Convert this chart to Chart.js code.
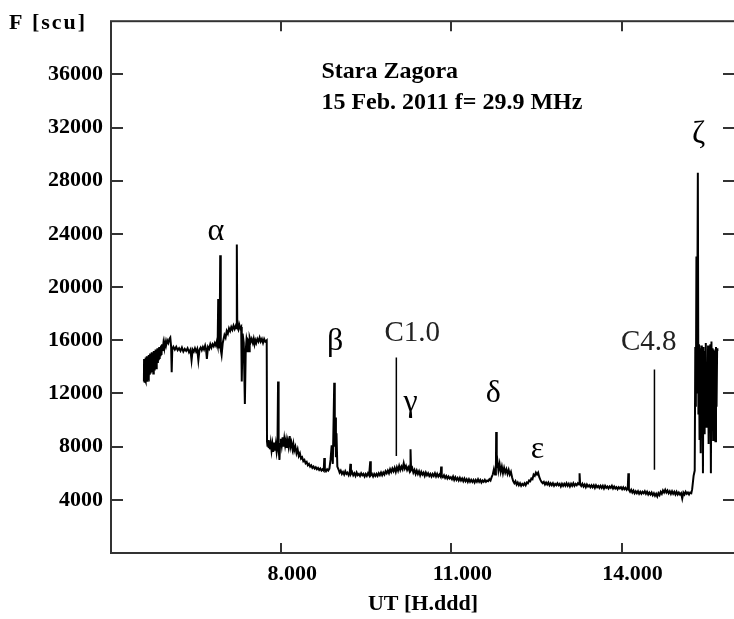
<!DOCTYPE html>
<html>
<head>
<meta charset="utf-8">
<script src="https://cdn.jsdelivr.net/npm/chart.js@4.4.1/dist/chart.umd.min.js"></script>
<style>
  html, body { margin: 0; padding: 0; background: #fff; overflow: hidden; }
  #wrap { width: 734px; height: 619px; overflow: hidden; }
</style>
</head>
<body>
<div id="wrap"><canvas id="chartBursts" width="742" height="619"></canvas></div>
<script>
// Données (UT en heures, flux en scu)
const utHours = [
  // début bruité
  5.580, 5.583, 5.590, 5.596, 5.602, 5.608, 5.614, 5.620, 5.627, 5.634,
  5.641, 5.648, 5.655, 5.662, 5.669, 5.676, 5.683, 5.690, 5.698, 5.706,
  5.714, 5.722, 5.730, 5.738, 5.746, 5.754, 5.762, 5.770, 5.778, 5.786,
  5.794, 5.802, 5.810, 5.818, 5.826, 5.834, 5.842, 5.850, 5.858, 5.866,
  5.874, 5.882, 5.890, 5.900, 5.910, 5.925, 5.940, 5.955, 5.970, 5.990,
  6.010, 6.030, 6.045, 6.060, 6.070, 6.080,
  // palier ~15000 et alpha
  6.100, 6.125, 6.150, 6.175, 6.200, 6.225, 6.250, 6.275, 6.300, 6.325,
  6.350, 6.375, 6.400, 6.420, 6.440, 6.460, 6.480, 6.500, 6.520, 6.540,
  6.560, 6.580, 6.600, 6.620, 6.640, 6.660, 6.675, 6.690, 6.710, 6.730,
  6.750, 6.770, 6.790, 6.810, 6.830, 6.850, 6.865, 6.880, 6.890, 6.900,
  6.915, 6.925, 6.935, 6.950, 6.970,
  // bosse 17000 puis palier 16000
  7.000, 7.020, 7.040, 7.060, 7.080, 7.100, 7.120, 7.140, 7.160, 7.180,
  7.200, 7.210, 7.218, 7.226, 7.245, 7.260, 7.280, 7.295, 7.305, 7.320,
  7.340, 7.360, 7.375, 7.390, 7.405, 7.410, 7.420, 7.435, 7.440, 7.450,
  7.465, 7.480, 7.500, 7.515, 7.530, 7.545, 7.560, 7.580, 7.600, 7.620,
  7.640, 7.660, 7.680, 7.700, 7.720, 7.745,
  // chute et beta
  7.750, 7.760, 7.770, 7.780, 7.790, 7.800, 7.815, 7.830, 7.845, 7.860,
  7.875, 7.890, 7.905, 7.920, 7.935, 7.945, 7.955, 7.970, 7.980, 7.995,
  8.010, 8.025, 8.040, 8.055, 8.070, 8.085, 8.100, 8.115, 8.130, 8.150,
  8.165, 8.180, 8.200, 8.215, 8.230, 8.250, 8.270, 8.290, 8.310, 8.330,
  8.350, 8.370, 8.390, 8.410, 8.430, 8.450, 8.470, 8.490, 8.510, 8.530,
  8.550, 8.570, 8.590, 8.610, 8.630, 8.650, 8.670, 8.690, 8.710, 8.730,
  8.750, 8.760, 8.770, 8.790, 8.810, 8.830, 8.850, 8.870, 8.890, 8.910,
  8.925, 8.935, 8.945, 8.955, 8.965, 8.975, 8.990,
  // fond après beta
  9.010, 9.030, 9.050, 9.070, 9.090, 9.110, 9.130, 9.150, 9.170, 9.190,
  9.210, 9.220, 9.230, 9.250, 9.270, 9.290, 9.310, 9.330, 9.350, 9.370,
  9.390, 9.410, 9.430, 9.450, 9.470, 9.490, 9.510, 9.530, 9.550, 9.570,
  9.580, 9.600, 9.620, 9.640, 9.660, 9.680, 9.700, 9.720, 9.740, 9.760,
  9.780, 9.800, 9.820, 9.840, 9.860, 9.880, 9.900, 9.920, 9.940, 9.960,
  9.980,
  // gamma
  10.000, 10.020, 10.040, 10.060, 10.080, 10.100, 10.120, 10.140, 10.160, 10.180,
  10.200, 10.220, 10.240, 10.260, 10.275, 10.280, 10.290, 10.310, 10.330, 10.350,
  10.370, 10.390, 10.410, 10.430, 10.450, 10.470, 10.490, 10.510, 10.530, 10.550,
  10.570, 10.590, 10.610, 10.630, 10.650, 10.670, 10.690, 10.710, 10.730, 10.750,
  10.770, 10.790, 10.810, 10.820, 10.830, 10.850, 10.870, 10.890, 10.910, 10.930,
  10.950, 10.970, 10.990, 11.010, 11.030, 11.050, 11.070, 11.090, 11.110, 11.130,
  11.150, 11.170, 11.190, 11.210, 11.230, 11.250, 11.270, 11.290, 11.310, 11.330,
  11.350, 11.370, 11.390, 11.410, 11.430, 11.450, 11.470, 11.490, 11.510, 11.530,
  11.550, 11.570, 11.590, 11.610, 11.630, 11.650, 11.670, 11.690, 11.710, 11.730,
  11.750,
  // delta et epsilon
  11.770, 11.785, 11.790, 11.800, 11.815, 11.830, 11.850, 11.870, 11.890, 11.910,
  11.930, 11.950, 11.970, 11.990, 12.010, 12.030, 12.050, 12.070, 12.090, 12.110,
  12.130, 12.150, 12.170, 12.190, 12.210, 12.230, 12.250, 12.270, 12.290, 12.310,
  12.330, 12.350, 12.370, 12.390, 12.410, 12.430, 12.450, 12.470, 12.490, 12.510,
  12.530, 12.550, 12.570, 12.590, 12.610, 12.630, 12.650, 12.670, 12.690, 12.710,
  12.730, 12.750, 12.770, 12.790, 12.810, 12.830, 12.850, 12.870, 12.890, 12.910,
  12.930, 12.950, 12.970, 12.990, 13.010, 13.030, 13.050, 13.070, 13.090, 13.110,
  13.130, 13.150, 13.170, 13.190, 13.210, 13.230, 13.250, 13.260, 13.270,
  // fond jusqu'à zeta
  13.290, 13.310, 13.330, 13.350, 13.370, 13.390, 13.410, 13.430, 13.450, 13.470,
  13.490, 13.510, 13.530, 13.550, 13.570, 13.590, 13.610, 13.630, 13.650, 13.670,
  13.690, 13.710, 13.730, 13.750, 13.770, 13.790, 13.810, 13.830, 13.850, 13.870,
  13.890, 13.910, 13.930, 13.950, 13.970, 13.990, 14.010, 14.030, 14.050, 14.070,
  14.090, 14.110, 14.120, 14.130, 14.150, 14.170, 14.190, 14.210, 14.230, 14.250,
  14.270, 14.290, 14.310, 14.330, 14.350, 14.370, 14.390, 14.410, 14.430, 14.450,
  14.470, 14.490, 14.510, 14.530, 14.550, 14.570, 14.590, 14.610, 14.630, 14.650,
  14.670, 14.690, 14.710, 14.730, 14.750, 14.770, 14.790, 14.810, 14.830, 14.850,
  14.870, 14.890, 14.910, 14.930, 14.950, 14.970, 14.990, 15.010, 15.030, 15.050,
  15.070, 15.090, 15.110, 15.130, 15.150, 15.170, 15.190, 15.210, 15.230, 15.245,
  // zeta
  15.270, 15.290, 15.300, 15.310, 15.320, 15.330, 15.345, 15.355, 15.365, 15.375,
  15.385, 15.395, 15.405, 15.415, 15.425, 15.435, 15.445, 15.455, 15.465, 15.475,
  15.485, 15.495, 15.505, 15.515, 15.525, 15.535, 15.545, 15.555, 15.565, 15.575,
  15.585, 15.595, 15.605, 15.615, 15.625, 15.635, 15.645, 15.655, 15.665, 15.675,
  15.685, 15.690
];
const fluxScu = [
  // début bruité
  12900, 14600, 12800, 14400, 13000, 14700, 12900, 14500, 13100, 14800,
  12950, 14600, 13300, 14900, 13200, 14700, 13400, 15000, 13500, 14800,
  13600, 15100, 13700, 15000, 13500, 15200, 13800, 15100, 14000, 15300,
  13900, 15200, 14200, 15400, 14300, 15300, 14500, 15500, 14600, 15400,
  14800, 15600, 14900, 15700, 15200, 15800, 15400, 15900, 15600, 16000,
  15800, 16100, 16200, 15500, 13600, 15300,
  // palier ~15000 et alpha
  15500, 15300, 15500, 15250, 15400, 15200, 15450, 15150, 15350, 15200,
  15400, 15100, 15300, 14500, 15300, 15150, 15400, 15150, 15350, 14500,
  15300, 15450, 15250, 15500, 15300, 15600, 15350, 14600, 15500, 15350,
  15700, 15450, 15700, 15550, 15800, 15600, 15900, 15600, 19100, 15800,
  15400, 22400, 15300, 14900, 15800,
  // bosse 17000 puis palier 16000
  16400, 16200, 16700, 16500, 16900, 16700, 17000, 16800, 17100, 16850,
  17100, 16900, 23200, 17000, 16800, 17200, 16900, 17000, 12900, 16500,
  15800, 11200, 15200, 16100, 15800, 15100, 16000, 15900, 15100, 16200,
  15900, 16100, 15800, 16100, 15700, 16000, 15800, 16100, 15900, 16200,
  15900, 16100, 15800, 16100, 15900, 16000,
  // chute et beta
  8400, 8000, 8500, 7900, 8400, 7800, 8300, 7700, 8200, 7600,
  8300, 7700, 8200, 7600, 8100, 12900, 7800, 7000, 8200, 8600,
  8100, 8700, 8000, 8600, 8100, 8500, 7900, 8400, 8000, 8800,
  8000, 8300, 7800, 8200, 7700, 8000, 7500, 7800, 7300, 7500,
  7100, 7200, 6900, 7000, 6750, 6850, 6600, 6700, 6500, 6600,
  6400, 6500, 6350, 6450, 6300, 6400, 6250, 6350, 6200, 6300,
  6200, 7150, 6300, 6150, 6300, 6200, 6350, 7000, 8100, 6700,
  10200, 12800, 8000, 10200, 7200, 9000, 6500,
  // fond après beta
  6300, 6050, 6200, 5950, 6100, 5900, 6150, 5950, 6050, 5850,
  6050, 6700, 5950, 6100, 5850, 6000, 5800, 6050, 5850, 5950,
  5800, 6000, 5850, 5950, 5750, 5950, 5800, 6000, 5850, 6900,
  5850, 5950, 5750, 5950, 5800, 5950, 5800, 6000, 5850, 6050,
  5850, 6050, 5900, 6150, 6000, 6200, 6000, 6300, 6100, 6350,
  6150,
  // gamma
  6400, 6100, 6450, 6200, 6550, 6250, 6500, 6300, 6750, 6350,
  6550, 6250, 6450, 6200, 6600, 7800, 6250, 6400, 6050, 6250,
  5950, 6200, 5950, 6150, 5850, 6100, 5900, 6050, 5800, 6050,
  5850, 6000, 5800, 5950, 5750, 5950, 5800, 6000, 5750, 5950,
  5750, 5900, 5750, 6500, 5800, 5700, 5850, 5650, 5800, 5600,
  5750, 5600, 5700, 5550, 5750, 5500, 5700, 5500, 5650, 5450,
  5650, 5450, 5600, 5400, 5600, 5400, 5550, 5350, 5550, 5350,
  5500, 5350, 5500, 5300, 5500, 5350, 5550, 5350, 5500, 5300,
  5450, 5350, 5500, 5350, 5450, 5400, 5550, 5450, 5700, 5900,
  6300,
  // delta et epsilon
  5900, 6200, 9100, 6400, 6800, 6200, 6700, 6100, 6500, 6000,
  6400, 6050, 6300, 5950, 6250, 5900, 6100, 5700, 5400, 5250,
  5400, 5150, 5300, 5100, 5250, 5050, 5200, 5100, 5250, 5100,
  5300, 5250, 5450, 5400, 5600, 5550, 5900, 5800, 6050, 5900,
  6050, 5700, 5500, 5350, 5250, 5350, 5150, 5300, 5150, 5300,
  5100, 5250, 5100, 5250, 5050, 5200, 5100, 5250, 5100, 5200,
  5000, 5200, 5050, 5200, 5050, 5250, 5050, 5200, 5000, 5200,
  5050, 5250, 5050, 5200, 5100, 5250, 5150, 6000, 5200,
  // fond jusqu'à zeta
  5050, 5200, 5000, 5150, 4950, 5150, 5000, 5100, 4950, 5100,
  4950, 5100, 4900, 5100, 4950, 5050, 4900, 5050, 4900, 5050,
  4850, 5050, 4900, 5000, 4850, 5000, 4900, 5050, 4850, 5000,
  4850, 4950, 4800, 4950, 4850, 4950, 4800, 4950, 4800, 4900,
  4750, 4900, 6000, 4750, 4600, 4750, 4550, 4700, 4500, 4650,
  4500, 4650, 4450, 4600, 4450, 4600, 4500, 4650, 4450, 4600,
  4400, 4550, 4400, 4550, 4350, 4500, 4300, 4450, 4250, 4500,
  4350, 4600, 4450, 4700, 4550, 4750, 4550, 4700, 4500, 4650,
  4450, 4650, 4450, 4600, 4400, 4600, 4400, 4550, 4400, 4500,
  4100, 4550, 4400, 4600, 4450, 4550, 4400, 4550, 4500, 4800,
  // zeta
  5800, 6200, 15500, 11000, 22300, 12000, 28600, 10500, 15700, 8500,
  15400, 7500, 15600, 10000, 14800, 6000, 15500, 9000, 15200, 11500,
  15800, 9500, 13500, 9500, 15600, 8200, 14900, 10500, 15700, 6000,
  15900, 11800, 15400, 8500, 15300, 12800, 15200, 8400, 15500, 11000,
  15400, 15200
];

// Repères des éruptions (C1.0, C4.8)
const flareTimes = [10.03, 14.58];
const flareLow = [7300, 6270];
const flareHigh = [14700, 13800];

// Étiquettes posées sur le graphe
const labelTexts = ["α", "β", "γ", "δ", "ε", "ζ", "C1.0", "C4.8"];
const labelTimes = [6.85, 8.95, 10.28, 11.74, 12.52, 15.36, 10.31, 14.48];
const labelFlux = [24150, 15930, 11320, 11980, 7810, 31500, 16500, 15850];

const captionLines = ["Stara Zagora", "15 Feb. 2011 f= 29.9 MHz"];
const captionTime = 8.71;
const captionFlux = [35700, 33400];

// Graduations
const xTicks = [8, 11, 14];
const yTicks = [4000, 8000, 12000, 16000, 20000, 24000, 28000, 32000, 36000];

const serif = "'Liberation Serif', 'Times New Roman', serif";

// Cadre, graduations internes et textes
const decorations = {
  id: "decorations",
  afterDraw(chart) {
    const { ctx, chartArea: a, scales: { x, y } } = chart;
    const seg = (x1, y1, x2, y2) => {
      ctx.beginPath(); ctx.moveTo(x1, y1); ctx.lineTo(x2, y2); ctx.stroke();
    };
    ctx.save();
    ctx.strokeStyle = "#333";
    ctx.lineWidth = 2;
    ctx.strokeRect(a.left, a.top, a.right - a.left, a.bottom - a.top);
    yTicks.forEach(v => {
      const py = Math.round(y.getPixelForValue(v));
      seg(a.left, py, a.left + 12, py);
      seg(a.right - 12, py, a.right, py);
    });
    xTicks.forEach(v => {
      const px = Math.round(x.getPixelForValue(v));
      seg(px, a.bottom, px, a.bottom - 10);
      seg(px, a.top, px, a.top + 10);
    });

    // titre de l'axe Y
    ctx.fillStyle = "#000";
    ctx.font = "bold 22px " + serif;
    ctx.textAlign = "left";
    ctx.textBaseline = "middle";
    ctx.letterSpacing = "2px";
    ctx.fillText("F [scu]", 9, 23);
    ctx.letterSpacing = "0px";

    // légende station / date
    ctx.font = "bold 24px " + serif;
    ctx.textBaseline = "alphabetic";
    captionLines.forEach((txt, i) => {
      ctx.fillText(txt, x.getPixelForValue(captionTime), y.getPixelForValue(captionFlux[i]));
    });

    // lettres grecques et classes des éruptions
    ctx.textAlign = "center";
    ctx.textBaseline = "middle";
    labelTexts.forEach((txt, i) => {
      ctx.font = (txt.length > 1 ? "29px " : "32px ") + serif;
      ctx.fillStyle = txt.length > 1 ? "#222" : "#000";
      ctx.fillText(txt, x.getPixelForValue(labelTimes[i]), y.getPixelForValue(labelFlux[i]));
    });
    ctx.restore();
  }
};

const flareSets = flareTimes.map((t, i) => ({
  data: [{ x: t, y: flareLow[i] }, { x: t, y: flareHigh[i] }],
  borderColor: "#000",
  borderWidth: 1.5,
  pointRadius: 0
}));

const ctx = document.getElementById("chartBursts").getContext("2d");
const chart = new Chart(ctx, {
  type: "line",
  data: {
    datasets: [{
      data: utHours.map((t, i) => ({ x: t, y: fluxScu[i] })),
      borderColor: "#000",
      borderWidth: 2,
      pointRadius: 0,
      tension: 0
    }, ...flareSets]
  },
  options: {
    responsive: false,
    animation: false,
    devicePixelRatio: 1,
    layout: { padding: { top: 6, right: 7, left: 0, bottom: 0 } },
    plugins: {
      legend: { display: false },
      tooltip: { enabled: false }
    },
    scales: {
      x: {
        type: "linear",
        min: 5,
        max: 16,
        afterBuildTicks: s => { s.ticks = xTicks.map(v => ({ value: v })); },
        afterFit: s => { s.height = 66; },
        grid: { display: false, drawTicks: false },
        border: { display: false },
        ticks: {
          color: "#000",
          padding: 8,
          labelOffset: 11,
          maxRotation: 0,
          font: { family: serif, size: 22, weight: "bold" },
          callback: v => v.toFixed(3)
        },
        title: {
          display: true,
          text: "UT [H.ddd]",
          color: "#000",
          padding: { top: 0, bottom: 1 },
          font: { family: serif, size: 22, weight: "bold" }
        }
      },
      y: {
        min: 0,
        max: 40000,
        afterBuildTicks: s => { s.ticks = yTicks.map(v => ({ value: v })); },
        afterFit: s => { s.width = 111; },
        grid: { display: false, drawTicks: false },
        border: { display: false },
        ticks: {
          color: "#000",
          padding: 8,
          font: { family: serif, size: 22, weight: "bold" },
          callback: v => String(v)
        }
      }
    }
  },
  plugins: [decorations]
});
</script>
</body>
</html>
